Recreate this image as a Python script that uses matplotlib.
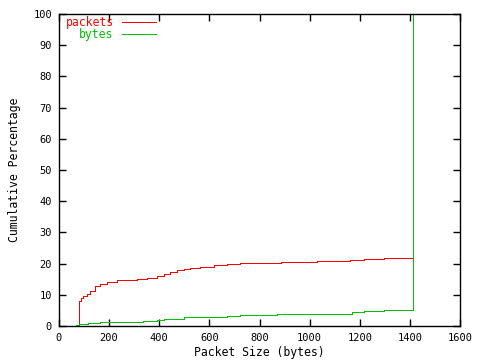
import matplotlib
matplotlib.use('Agg')
import matplotlib.pyplot as plt

# cumulative percentage by packet size
packets_size = [64, 78, 81, 87, 97, 111, 124, 144, 164, 191, 231, 311, 351, 391,
                417, 444, 471, 497, 524, 564, 617, 671, 724, 884, 1028, 1161,
                1215, 1297, 1411, 1500]
packets_pct = [0, 1.0, 7.9, 8.9, 9.7, 10.3, 11.2, 12.7, 13.5, 14.0, 14.7, 15.1,
               15.5, 16.1, 16.7, 17.3, 18.0, 18.4, 18.7, 19.0, 19.4, 19.9, 20.1,
               20.4, 20.7, 21.2, 21.5, 21.8, 100, 100]

bytes_size = [57, 66, 78, 117, 164, 337, 391, 417, 444, 497, 564, 671, 724, 871,
              1051, 1171, 1217, 1297, 1411, 1500]
bytes_pct = [0, 0.4, 0.6, 1.0, 1.3, 1.6, 1.9, 2.2, 2.4, 2.8, 3.0, 3.3, 3.5, 3.7,
             4.0, 4.5, 4.8, 5.1, 100, 100]

x_ticks = list(range(0, 1601, 200))
y_ticks = list(range(0, 101, 10))

plt.rcParams['font.family'] = 'DejaVu Sans Mono'
plt.rcParams['font.size'] = 7.5

fig = plt.figure(figsize=(4.8, 3.6), dpi=100)
ax = fig.add_axes([59/480, 34/360, 401/480, 312/360])

ax.plot(packets_size, packets_pct, drawstyle='steps-post', color='#ff0000',
        lw=0.72, antialiased=False, label='packets')
ax.plot(bytes_size, bytes_pct, drawstyle='steps-post', color='#00c000',
        lw=0.72, antialiased=False, label='bytes')

ax.set_xlim(0, 1600)
ax.set_ylim(0, 100)
ax.set_xticks(x_ticks)
ax.set_yticks(y_ticks)
ax.tick_params(direction='in', length=5, width=1, top=True, right=True, pad=5)
for s in ax.spines.values():
    s.set_linewidth(1)

ax.set_xlabel('Packet Size (bytes)', fontsize=8.3, labelpad=2)
ax.set_ylabel('Cumulative Percentage', fontsize=8.3, labelpad=9)

leg = ax.legend(loc='upper left', markerfirst=False, frameon=False,
                fontsize=8.3, handlelength=3.0, handletextpad=0.7,
                borderaxespad=0.0, labelspacing=-0.08,
                bbox_to_anchor=(0.005, 1.008))
for txt, line in zip(leg.get_texts(), leg.get_lines()):
    txt.set_color(line.get_color())
    txt.set_ha('right')

fig.savefig('out.png', dpi=100)
